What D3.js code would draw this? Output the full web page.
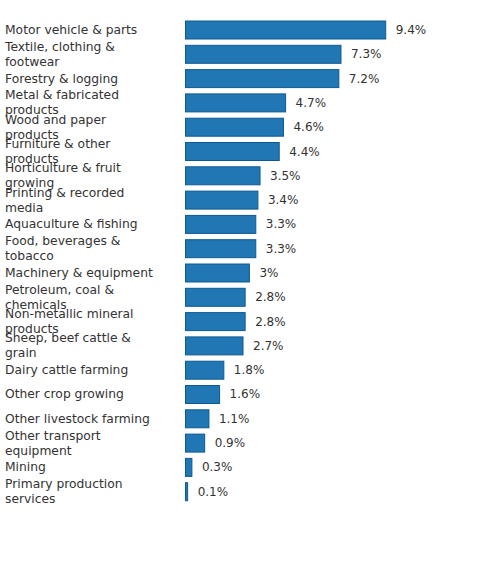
<!DOCTYPE html>
<html>
<head>
<meta charset="utf-8">
<script src="https://d3js.org/d3.v7.min.js"></script>
<style>
body { margin: 0; background: #fff; }
text { font-family: "DejaVu Sans", sans-serif; font-size: 12px; fill: #333; }
text.cat { font-size: 12.3px; }
</style>
</head>
<body>
<div id="viz"></div>
<script>
// data
var categories = [
  "Motor vehicle & parts", "Textile, clothing & footwear", "Forestry & logging",
  "Metal & fabricated products", "Wood and paper products", "Furniture & other products",
  "Horticulture & fruit growing", "Printing & recorded media", "Aquaculture & fishing",
  "Food, beverages & tobacco", "Machinery & equipment", "Petroleum, coal & chemicals",
  "Non-metallic mineral products", "Sheep, beef cattle & grain", "Dairy cattle farming",
  "Other crop growing", "Other livestock farming", "Other transport equipment",
  "Mining", "Primary production services"
];
var values = [9.4, 7.3, 7.2, 4.7, 4.6, 4.4, 3.5, 3.4, 3.3, 3.3, 3, 2.8, 2.8, 2.7, 1.8, 1.6, 1.1, 0.9, 0.3, 0.1];

var data = categories.map(function(c, i) { return {name: c, value: values[i]}; });

var width = 480, height = 580;
var svg = d3.select("#viz").append("svg")
    .attr("width", width)
    .attr("height", height);

var x = d3.scaleLinear().domain([0, d3.max(values)]).range([185.5, 385.7]);
var y = d3.scaleBand().domain(categories).range([14.7, 507]).padding(0.26);

// bars
svg.selectAll("rect.bar").data(data).enter().append("rect")
    .attr("class", "bar")
    .attr("x", x(0))
    .attr("y", function(d) { return y(d.name); })
    .attr("width", function(d) { return x(d.value) - x(0); })
    .attr("height", y.bandwidth())
    .style("fill", "#2077b4")
    .style("stroke", "#0d5a91")
    .style("stroke-width", 1);

// value labels
svg.selectAll("text.val").data(data).enter().append("text")
    .attr("class", "val")
    .attr("x", function(d) { return x(d.value) + 10; })
    .attr("y", function(d) { return y(d.name) + y.bandwidth() / 2 + 4; })
    .text(function(d) { return d.value + "%"; });

// category labels, wrapped
var labels = svg.selectAll("text.cat").data(data).enter().append("text")
    .attr("class", "cat")
    .attr("x", 5)
    .attr("y", function(d) { return y(d.name) + y.bandwidth() / 2 + 4; });

labels.each(function(d) {
  var t = d3.select(this);
  var words = d.name.split(" ");
  var lines = [], line = [];
  var tmp = t.append("tspan");
  words.forEach(function(w) {
    line.push(w);
    tmp.text(line.join(" "));
    if (tmp.node().getComputedTextLength() > 154 && line.length > 1) {
      line.pop();
      lines.push(line.join(" "));
      line = [w];
    }
  });
  lines.push(line.join(" "));
  tmp.remove();
  var y0 = +t.attr("y") - (lines.length - 1) * 7.5;
  lines.forEach(function(l, i) {
    t.append("tspan").attr("x", 5).attr("y", y0 + i * 15).text(l);
  });
});
</script>
</body>
</html>
